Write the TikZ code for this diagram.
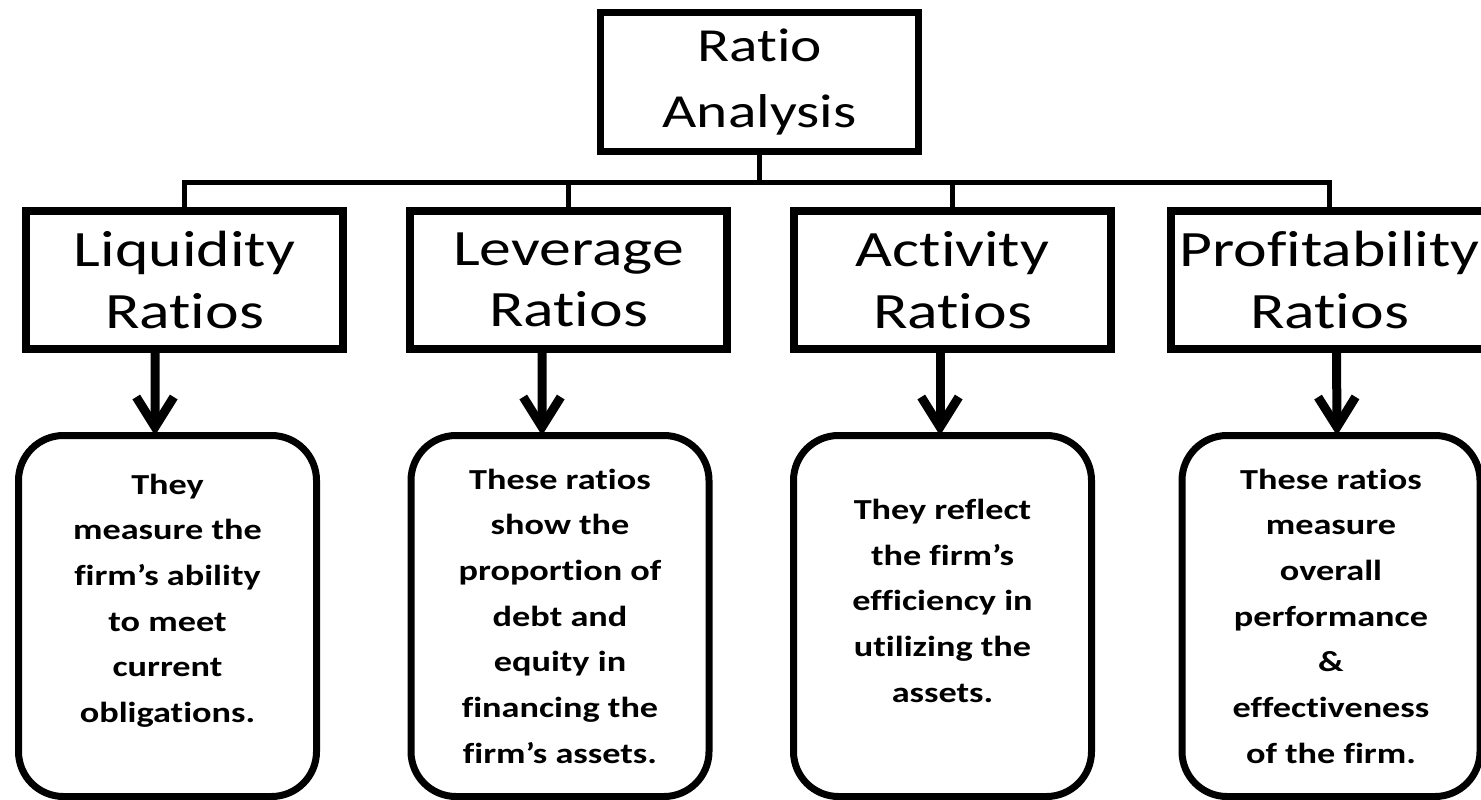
\documentclass[tikz,border=0pt]{standalone}
\usepackage{fontspec}
\setmainfont[FakeStretch=1.25, Ligatures={NoCommon}]{Carlito}
\usetikzlibrary{positioning,arrows.meta}
\tikzset{
  every node/.style={text=black, draw=black, outer sep=0pt, align=center},
  head/.style={minimum width=6.36cm, minimum height=2.78cm, line width=0.14cm, font=\fontsize{27}{37}\selectfont},
  ratio/.style={minimum width=6.34cm, minimum height=2.76cm, line width=0.16cm, font=\fontsize{29}{35}\selectfont},
  info/.style={minimum width=5.96cm, minimum height=7.22cm, line width=0.14cm, rounded corners=0.9cm, font=\bfseries\fontsize{16.5}{26}\selectfont},
  link/.style={draw=black, line width=0.1cm},
  arrow/.style={draw=black, line width=0.18cm, -{Straight Barb[length=0.6cm, width=0.75cm]}}
}

\begin{document}
\begin{tikzpicture}
  \useasboundingbox (0,0) rectangle (29.62,15.98);
  \clip (0,0) rectangle (29.62,15.98);

  % Nodes
  \node (top) [head] at (15.19,14.34) {Ratio\\Analysis};
  \node (liq) [ratio] at (3.69,10.38) {Liquidity\\Ratios};
  \node (lev) [ratio, right=1.34cm of liq] {Leverage\\Ratios};
  \node (act) [ratio, right=1.34cm of lev] {Activity\\Ratios};
  \node (prof) [ratio, right=1.2cm of act] {Profitability\\Ratios};

  \node (liqdesc) [info, below=1.73cm of liq, xshift=-0.34cm] {They\\measure the\\firm’s ability\\to meet\\current\\obligations.\\[-0.2cm]\mbox{}};
  \node (levdesc) [info, below=1.73cm of lev, xshift=-0.17cm] {These ratios\\show the\\proportion of\\debt and\\equity in\\financing the\\firm’s assets.};
  \node (actdesc) [info, below=1.73cm of act, xshift=-0.2cm] {They reflect\\the firm’s\\efficiency in\\utilizing the\\assets.\\[-0.3cm]\mbox{}};
  \node (profdesc) [info, below=1.73cm of prof, xshift=0.03cm] {These ratios\\measure\\overall\\performance\\\&\\effectiveness\\of the firm.};

  \coordinate (bus) at ([yshift=-0.63cm]top.south);
  \draw[link] (top.south) -- (bus);
  \draw[link] (liq.north) -- (liq.north |- bus) -- (prof.north |- bus) -- (prof.north);
  \draw[link] (lev.north |- bus) -- (lev.north);
  \draw[link] (act.north |- bus) -- (act.north);

  \draw[arrow] ([xshift=-0.59cm]liq.south) -- ([xshift=-0.25cm]liqdesc.north);
  \draw[arrow] ([xshift=-0.53cm]lev.south) -- ([xshift=-0.36cm]levdesc.north);
  \draw[arrow] ([xshift=-0.25cm]act.south) -- ([xshift=-0.05cm]actdesc.north);
  \draw[arrow] ([xshift=0.14cm]prof.south) -- ([xshift=0.12cm]profdesc.north);
\end{tikzpicture}
\end{document}
